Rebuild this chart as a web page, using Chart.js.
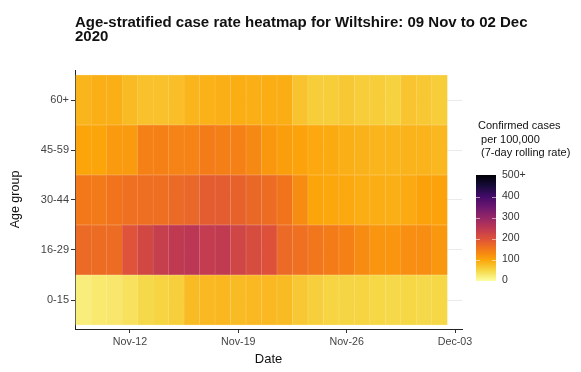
<!DOCTYPE html>
<html>
<head>
<meta charset="utf-8">
<script src="https://cdn.jsdelivr.net/npm/chart.js@4.4.0/dist/chart.umd.min.js"></script>
<style>
  html, body { margin: 0; padding: 0; background: #fff; }
</style>
</head>
<body>
<canvas id="heatmap" width="581" height="372"></canvas>
<script>
// dates shown in the heatmap (one column each)
const dates = [
    '2020-11-09', '2020-11-10', '2020-11-11', '2020-11-12', '2020-11-13', '2020-11-14',
    '2020-11-15', '2020-11-16', '2020-11-17', '2020-11-18', '2020-11-19', '2020-11-20',
    '2020-11-21', '2020-11-22', '2020-11-23', '2020-11-24', '2020-11-25', '2020-11-26',
    '2020-11-27', '2020-11-28', '2020-11-29', '2020-11-30', '2020-12-01', '2020-12-02'
];
const ageGroups = ['0-15', '16-29', '30-44', '45-59', '60+'];

// confirmed cases per 100,000 (7-day rolling rate)
const rate0to15 = [22, 28, 30, 38, 48, 53, 58, 78, 80, 82, 78, 80, 80, 78, 65, 58, 53, 52, 53, 50, 48, 50, 48, 50];
const rate16to29 = [168, 165, 165, 198, 218, 235, 245, 250, 240, 242, 222, 210, 200, 168, 160, 153, 145, 140, 128, 118, 118, 125, 126, 115];
const rate30to44 = [150, 148, 155, 160, 162, 162, 168, 172, 185, 185, 178, 170, 165, 155, 128, 100, 98, 96, 92, 92, 90, 94, 102, 102];
const rate45to59 = [100, 100, 112, 112, 140, 140, 138, 138, 145, 142, 140, 132, 115, 108, 102, 97, 95, 90, 87, 85, 85, 86, 86, 82];
const rate60plus = [85, 90, 90, 78, 72, 72, 75, 85, 88, 90, 92, 90, 92, 92, 70, 60, 60, 65, 60, 60, 55, 68, 65, 60];

const dateTicks = ['2020-11-12', '2020-11-19', '2020-11-26', '2020-12-03'];
const dateTickLabels = ['Nov-12', 'Nov-19', 'Nov-26', 'Dec-03'];
const legendTicks = [0, 100, 200, 300, 400, 500];
const legendTickLabels = ['0', '100', '200', '300', '400', '500+'];

const rates = [rate0to15, rate16to29, rate30to44, rate45to59, rate60plus];

// inferno palette, dark -> light
const inferno = ['#000004', '#160B39', '#420A68', '#6A176E', '#932667', '#BC3754',
    '#DD513A', '#F37819', '#FCA50A', '#F6D746', '#FCFFA4'];
const maxRate = 500;

function hexToRgb(h) {
    return [parseInt(h.slice(1, 3), 16), parseInt(h.slice(3, 5), 16), parseInt(h.slice(5, 7), 16)];
}

function rateRgb(v) {
    // reversed scale: 0 = light yellow, 500+ = black
    const t = 1 - Math.min(Math.max(v, 0), maxRate) / maxRate;
    const pos = t * (inferno.length - 1);
    const i = Math.min(Math.floor(pos), inferno.length - 2);
    const f = pos - i;
    const a = hexToRgb(inferno[i]);
    const b = hexToRgb(inferno[i + 1]);
    return a.map((c, k) => Math.round(c + (b[k] - c) * f));
}

function rateColour(v) {
    const c = rateRgb(v);
    return `rgb(${c[0]},${c[1]},${c[2]})`;
}

function tileBorder(v) {
    const c = rateRgb(v).map(x => Math.round(x + (255 - x) * 0.3));
    return `rgb(${c[0]},${c[1]},${c[2]})`;
}

function dayIndex(d) {
    return Math.round((Date.parse(d) - Date.parse(dates[0])) / 86400000);
}

const fontFamily = '"Liberation Sans", Arial, sans-serif';
Chart.defaults.font.family = fontFamily;

// title and colour bar legend are drawn by hand
const extrasPlugin = {
    id: 'extras',
    afterDraw(chart) {
        const ctx = chart.ctx;
        ctx.save();
        ctx.fillStyle = '#111';
        ctx.textAlign = 'left';
        ctx.textBaseline = 'alphabetic';
        ctx.font = 'bold 15px ' + fontFamily;
        ctx.fillText('Age-stratified case rate heatmap for Wiltshire: 09 Nov to 02 Dec', 75, 27);
        ctx.fillText('2020', 75, 41);

        // legend title
        ctx.font = '11px ' + fontFamily;
        ctx.fillStyle = '#111';
        ctx.textBaseline = 'middle';
        ctx.fillText('Confirmed cases', 478, 126);
        ctx.fillText(' per 100,000', 478, 139.5);
        ctx.fillText(' (7-day rolling rate)', 478, 153);

        // colour bar
        const barX = 476, barW = 20, barTop = 175, barBottom = 281;
        const yFor = v => barBottom - 0.5 - v / maxRate * (barBottom - barTop - 1);
        const grad = ctx.createLinearGradient(0, barBottom, 0, barTop);
        for (let s = 0; s <= 50; s++) {
            grad.addColorStop(s / 50, rateColour(s / 50 * maxRate));
        }
        ctx.fillStyle = grad;
        ctx.fillRect(barX, barTop, barW, barBottom - barTop);

        ctx.strokeStyle = 'rgba(255,255,255,0.55)';
        ctx.lineWidth = 1;
        ctx.fillStyle = '#333';
        ctx.font = '10.5px ' + fontFamily;
        legendTicks.forEach((v, i) => {
            const y = Math.round(yFor(v)) + 0.5;
            if (v > 0 && v < maxRate) {
                ctx.beginPath();
                ctx.moveTo(barX, y); ctx.lineTo(barX + 4, y);
                ctx.moveTo(barX + barW - 4, y); ctx.lineTo(barX + barW, y);
                ctx.stroke();
            }
            ctx.fillText(legendTickLabels[i], 502, yFor(v));
        });
        ctx.restore();
    }
};

const datasets = ageGroups.map((group, row) => ({
    label: group,
    data: dates.map((d, i) => ({ y: row, x: [dayIndex(d) - 0.5, dayIndex(d) + 0.5], rate: rates[row][i] })),
    backgroundColor: rates[row].map(rateColour),
    borderColor: rates[row].map(tileBorder),
    borderWidth: 0.5,
    borderSkipped: false,
    grouped: false,
    barPercentage: 1,
    categoryPercentage: 1
}));

new Chart(document.getElementById('heatmap').getContext('2d'), {
    type: 'bar',
    data: { datasets: datasets },
    options: {
        indexAxis: 'y',
        responsive: false,
        animation: false,
        layout: { padding: { top: 70, right: 119, left: 0, bottom: 0 } },
        plugins: {
            legend: { display: false },
            tooltip: { enabled: false }
        },
        scales: {
            x: {
                type: 'linear',
                min: -0.55,
                max: 24.45,
                afterBuildTicks: scale => {
                    scale.ticks = dateTicks.map(d => ({ value: dayIndex(d) }));
                },
                afterFit: scale => { scale.height = 43; },
                ticks: {
                    autoSkip: false,
                    maxRotation: 0,
                    padding: 3,
                    color: '#444',
                    font: { size: 10.7 },
                    callback: (value, index) => dateTickLabels[index]
                },
                grid: { color: 'rgba(0,0,0,0)', tickColor: '#333', tickLength: 4 },
                border: { color: '#222', width: 1 },
                title: {
                    display: true,
                    text: 'Date',
                    color: '#111',
                    font: { size: 13 },
                    padding: { top: 0, bottom: 5 }
                }
            },
            y: {
                type: 'linear',
                offset: false,
                min: -0.58,
                max: 4.6,
                afterBuildTicks: scale => {
                    scale.ticks = ageGroups.map((g, i) => ({ value: i }));
                },
                afterFit: scale => { scale.width = 75; },
                ticks: {
                    autoSkip: false,
                    padding: 2,
                    color: '#444',
                    font: { size: 11 },
                    callback: (value, index) => ageGroups[index]
                },
                grid: { color: '#ebebeb', tickColor: '#333', tickLength: 4, offset: false },
                border: { color: '#222', width: 1 },
                title: {
                    display: true,
                    text: 'Age group',
                    color: '#111',
                    font: { size: 12.5 },
                    padding: { top: 8, bottom: 0 }
                }
            }
        }
    },
    plugins: [extrasPlugin]
});
</script>
</body>
</html>
